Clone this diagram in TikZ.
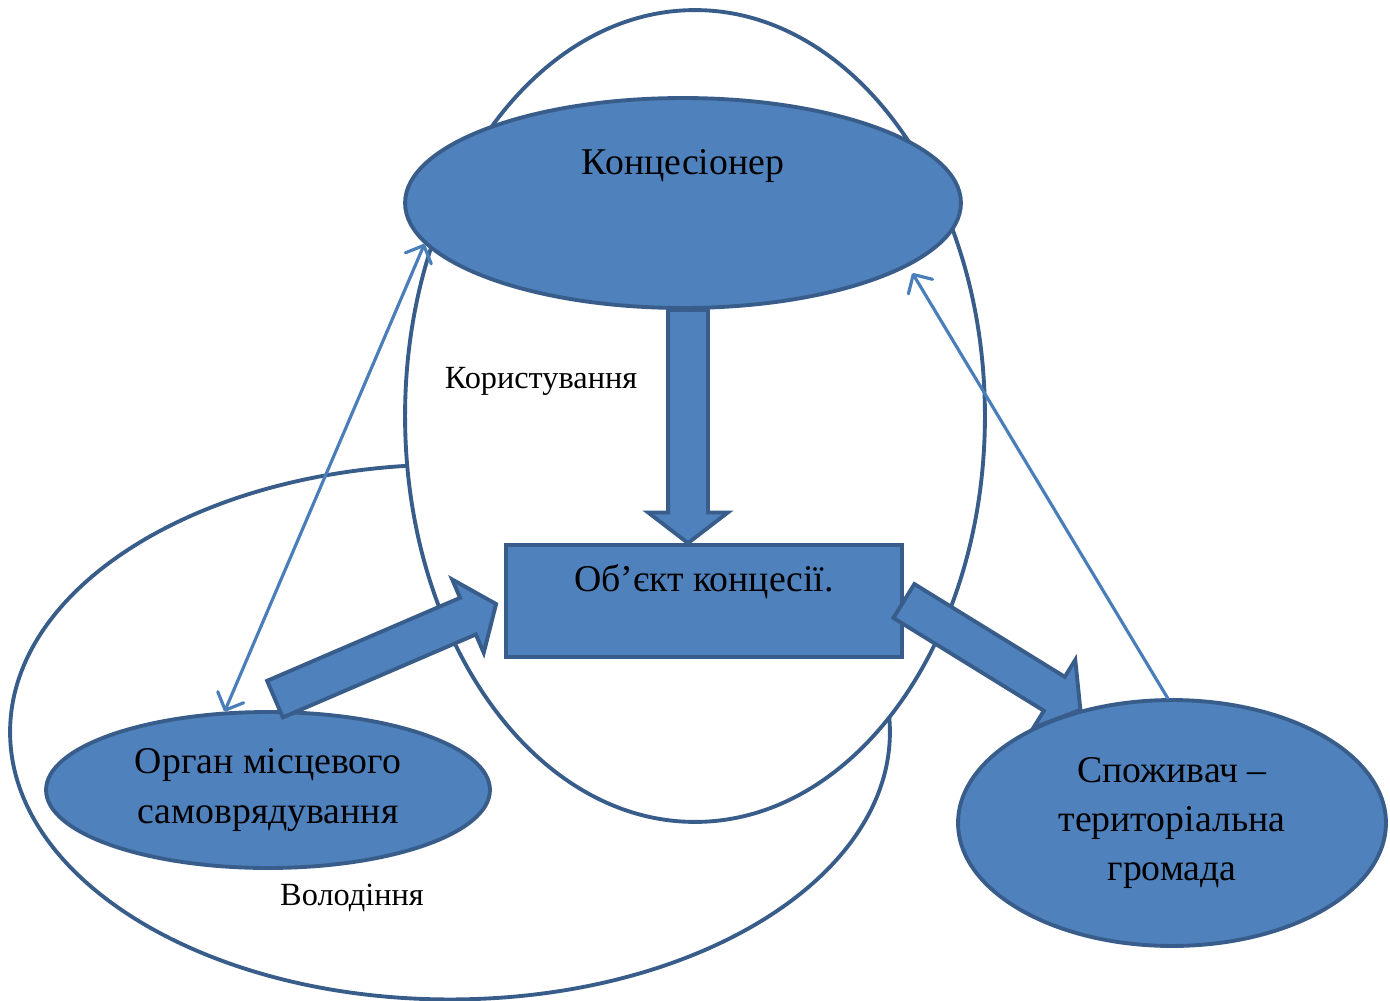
\documentclass[tikz,border=0pt]{standalone}
\usepackage{fontspec}
\setmainfont{Liberation Serif}
\usetikzlibrary{shapes.geometric,shapes.arrows,arrows.meta,calc}
\definecolor{accfill}{HTML}{4F81BD}
\definecolor{accline}{HTML}{385D8A}
\definecolor{linkblue}{HTML}{4A7EBB}
\tikzset{
  every picture/.style={line width=2.2pt},
  partyell/.style={ellipse, draw=accline, fill=accfill, line width=2.2pt, inner sep=0pt,
                   align=center, font=\fontsize{21.5}{28}\selectfont},
  objbox/.style={rectangle, draw=accline, fill=accfill, line width=2.2pt},
  rightell/.style={ellipse, draw=accline, line width=2.2pt, inner sep=0pt},
  bigtext/.style={font=\fontsize{21.5}{28}\selectfont},
  smalltext/.style={font=\fontsize{18.4}{22}\selectfont},
  bigarrow/.style={single arrow, draw=accline, fill=accfill, line width=2.2pt,
                   single arrow head extend=0.4cm, single arrow tip angle=105,
                   inner xsep=0pt, inner ysep=0.36cm, outer sep=0pt, anchor=tail},
  link/.style={draw=linkblue, line width=1.8pt, line cap=round},
  barb/.tip={Straight Barb[round,length=8pt,width=16pt]},
}
% block arrow between two points
\newcommand{\blockarrow}[2]{%
  \path let \p1=($(#2)-(#1)$), \n1={veclen(\x1,\y1)}, \n2={atan2(\y1,\x1)} in
    node[bigarrow, minimum height=\n1, rotate=\n2] at (#1) {};}

\begin{document}
\begin{tikzpicture}[x=0.02cm, y=-0.02cm]
\useasboundingbox (0,0) rectangle (1390,1001);
% rights: possession and use
\node[rightell, minimum width=17.6cm, minimum height=10.7cm] (own) at (450,732) {};
\node[rightell, fill=white, minimum width=11.6cm, minimum height=16.24cm] (use) at (695,416) {};
\node[smalltext] (uselbl) at (541,381) {Користування};
\node[smalltext] (ownlbl) at (352,898) {Володіння};
% parties
\node[partyell, minimum width=11.12cm, minimum height=4.2cm] (kon) at (683,203) {};
\node[bigtext] (kontxt) at (683,166) {Концесіонер};
\node[objbox, minimum width=7.92cm, minimum height=2.24cm] (obj) at (704,601) {};
\node[bigtext] (objtxt) at (704,582) {Об’єкт концесії.};
\node[partyell, minimum width=8.88cm, minimum height=3.12cm] (org) at (268,790) {Орган місцевого\\самоврядування};
\node[partyell, minimum width=8.56cm, minimum height=4.92cm] (spo) at (1172,823) {Споживач –\\територіальна\\громада};
% block arrows
\coordinate (konbot) at ($(kon.south)+(5,0)$);
\coordinate (objtop) at (konbot |- obj.north);
\coordinate (orgtop) at ($(org.85)+(0,-11)$);
\coordinate (objleft) at ($(obj.west)+(-8,3)$);
\blockarrow{konbot}{objtop}
\blockarrow{orgtop}{objleft}
\blockarrow{obj.east}{spo.129}
% thin links
\coordinate (konright) at ($(kon.center)!1.05!(kon.343)$);
\draw[link, barb-barb] (kon.189) -- (org.119);
\draw[link, -barb] (spo.92) -- (konright);
\end{tikzpicture}
\end{document}
